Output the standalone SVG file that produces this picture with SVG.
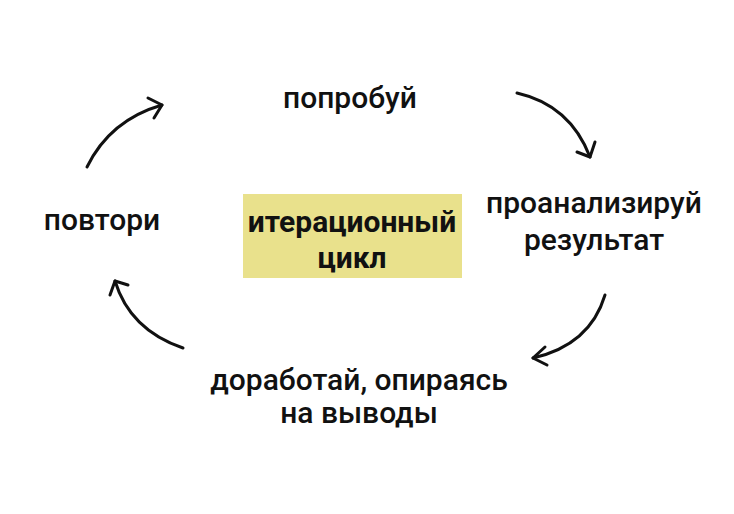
<svg xmlns="http://www.w3.org/2000/svg" width="734" height="514" viewBox="0 0 734 514">
<style>
.t{font-family:Roboto,"Liberation Sans",sans-serif;font-size:30px;font-weight:500;fill:#111;text-anchor:middle}
.b{font-weight:700}
.a{fill:none;stroke:#111;stroke-width:3;stroke-linecap:round;stroke-linejoin:round}
</style>
<rect width="734" height="514" fill="#fff"/>
<g id="center">
<rect x="243" y="194" width="219" height="84" fill="#e9e18c"/>
<text class="t b" x="352" y="232">итерационный</text>
<text class="t b" x="352" y="268">цикл</text>
</g>
<g id="try"><text class="t" x="350" y="108">попробуй</text></g>
<g id="analyze"><text class="t" x="594" y="213">проанализируй</text><text class="t" x="594" y="250">результат</text></g>
<g id="improve"><text class="t" x="359" y="390">доработай, опираясь</text><text class="t" x="359" y="423">на выводы</text></g>
<g id="repeat"><text class="t" x="102" y="230">повтори</text></g>
<g id="connectors">
<path class="a" d="M87 167 Q110 120 162 105"/>
<path class="a" d="M148 98 L162 105 L154 118"/>
<path class="a" d="M517 93 Q570 105 590 157"/>
<path class="a" d="M577 152 L590 157 L595 142"/>
<path class="a" d="M605 295 Q590 345 533 358"/>
<path class="a" d="M545 347 L533 358 L547 365"/>
<path class="a" d="M183 348 Q130 330 115 281"/>
<path class="a" d="M110 295 L115 281 L128 285"/>
</g>
</svg>
